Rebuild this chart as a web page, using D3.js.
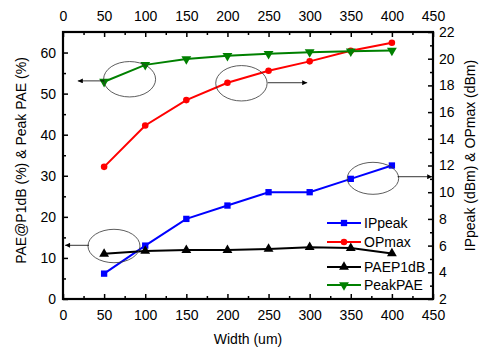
<!DOCTYPE html>
<html>
<head>
<meta charset="utf-8">
<script src="https://cdn.jsdelivr.net/npm/d3@7"></script>
<style>
  body { margin: 0; background: #fff; }
  svg text { font-family: Arial, "Liberation Sans", sans-serif; fill: #000; }
</style>
</head>
<body>
<div class="canva"></div>
<script>
// data
var widths   = [50, 100, 150, 200, 250, 300, 350, 400];
var ipPeak   = [3.9, 6.0, 8.0, 9.0, 10.0, 10.0, 11.0, 12.0];     // dBm, right axis
var opMax    = [11.9, 15.0, 16.9, 18.2, 19.1, 19.8, 20.6, 21.2]; // dBm, right axis
var paeP1dB  = [11.0, 11.7, 11.9, 11.9, 12.2, 12.6, 12.4, 11.1]; // %, left axis
var peakPAE  = [52.9, 57.0, 58.4, 59.2, 59.7, 60.1, 60.3, 60.5]; // %, left axis

var xTicks     = [0, 50, 100, 150, 200, 250, 300, 350, 400, 450];
var leftTicks  = [0, 10, 20, 30, 40, 50, 60];
var rightTicks = [2, 4, 6, 8, 10, 12, 14, 16, 18, 20, 22];

// ellipses + arrows (data units)
var circles = [
  {cx: 81, cy: 53.5, side: "left", rx: 26, ry: 17.7, x1: 50, x2: 18, ay: 53.1},
  {cx: 217, cy: 18.16, side: "right", rx: 25.7, ry: 17.7, x1: 249, x2: 297, ay: 18.2},
  {cx: 377, cy: 11.04, side: "right", rx: 25.7, ry: 16, x1: 407, x2: 449, ay: 11.16},
  {cx: 62, cy: 12.9, side: "left", rx: 26, ry: 16.7, x1: 31.6, x2: 2.5, ay: 13.07}
];

var margin = {top: 32, right: 50, bottom: 48, left: 63},
    W = 483, H = 347,
    width = W - margin.left - margin.right,
    height = H - margin.top - margin.bottom;

var svg = d3.select(".canva").append("svg")
    .attr("width", W).attr("height", H)
  .append("g")
    .attr("transform", "translate(" + margin.left + "," + margin.top + ")");

var x = d3.scaleLinear().domain([0, 450]).range([0, width]);
var yL = d3.scaleLinear().domain([0, 65]).range([height, 0]);
var yR = d3.scaleLinear().domain([2, 22]).range([height, 0]);

function minorOf(ticks) {
  var m = [];
  for (var i = 0; i < ticks.length - 1; i++) m.push((ticks[i] + ticks[i+1]) / 2);
  return m;
}

// axes, ticks pointing inward
function drawAxis(axisFn, scale, ticks, transform, pad) {
  var g = svg.append("g").attr("transform", transform);
  g.call(axisFn(scale).tickValues(minorOf(ticks)).tickSize(-3).tickFormat(""));
  g.selectAll("path").remove();
  var g2 = svg.append("g").attr("transform", transform);
  g2.call(axisFn(scale).tickValues(ticks).tickSize(-5).tickPadding(pad));
  g2.selectAll("path").remove();
  g2.selectAll("text").style("font-size", "14px");
  svg.selectAll("line").attr("stroke", "#000").attr("stroke-width", 1.5);
  return g2;
}

drawAxis(d3.axisBottom, x, xTicks, "translate(0," + height + ")", 11);
drawAxis(d3.axisTop, x, xTicks, "translate(0,0)", 11);
var gl = drawAxis(d3.axisLeft, yL, leftTicks, "translate(0,0)", 7);
var gr = drawAxis(d3.axisRight, yR, rightTicks, "translate(" + width + ",0)", 6);

// frame
svg.append("rect")
  .attr("x", 0).attr("y", 0).attr("width", width).attr("height", height)
  .attr("fill", "none").attr("stroke", "#000").attr("stroke-width", 2.2);

// axis titles
svg.append("text")
  .attr("x", width / 2).attr("y", height + 45)
  .attr("text-anchor", "middle").style("font-size", "14px")
  .text("Width (um)");
svg.append("text")
  .attr("transform", "translate(" + (-37) + "," + (height / 2 - 5) + ") rotate(-90)")
  .attr("text-anchor", "middle").style("font-size", "14px")
  .text("PAE@P1dB (%) & Peak PAE (%)");
svg.append("text")
  .attr("transform", "translate(" + (width + 42) + "," + (height / 2 - 10) + ") rotate(-90)")
  .attr("text-anchor", "middle").style("font-size", "14px")
  .text("IPpeak (dBm) & OPmax (dBm)");

var series = [
  {name: "IPpeak", values: ipPeak, y: yR, color: "#0000ff", marker: "square"},
  {name: "OPmax", values: opMax, y: yR, color: "#ff0000", marker: "circle"},
  {name: "PAEP1dB", values: paeP1dB, y: yL, color: "#000000", marker: "triangle"},
  {name: "PeakPAE", values: peakPAE, y: yL, color: "#008000", marker: "triangleDown"}
];

var symbols = {
  square: d3.symbol().type(d3.symbolSquare).size(40),
  circle: d3.symbol().type(d3.symbolCircle).size(34),
  triangle: d3.symbol().type(d3.symbolTriangle).size(42),
  triangleDown: d3.symbol().type(d3.symbolTriangle).size(42)
};

series.forEach(function(s) {
  var pts = widths.map(function(w, i) { return [x(w), s.y(s.values[i])]; });
  svg.append("path")
    .attr("d", d3.line()(pts))
    .attr("fill", "none").attr("stroke", s.color).attr("stroke-width", 2);
  svg.selectAll(null).data(pts).enter().append("path")
    .attr("d", symbols[s.marker]())
    .attr("transform", function(d) {
      return "translate(" + d[0] + "," + d[1] + ")" + (s.marker == "triangleDown" ? " rotate(180)" : "");
    })
    .attr("fill", s.color);
});

// annotations
svg.append("defs").append("marker")
  .attr("id", "arr").attr("viewBox", "0 0 10 10")
  .attr("refX", 10).attr("refY", 5)
  .attr("markerWidth", 7).attr("markerHeight", 5)
  .attr("markerUnits", "userSpaceOnUse")
  .attr("orient", "auto")
  .append("path").attr("d", "M0,0L10,5L0,10z").attr("fill", "#000");

circles.forEach(function(c) {
  var ys = c.side == "left" ? yL : yR;
  svg.append("ellipse")
    .attr("cx", x(c.cx)).attr("cy", ys(c.cy))
    .attr("rx", c.rx).attr("ry", c.ry)
    .attr("fill", "none").attr("stroke", "#333").attr("stroke-width", 0.8);
  svg.append("line")
    .attr("x1", x(c.x1)).attr("x2", x(c.x2))
    .attr("y1", ys(c.ay)).attr("y2", ys(c.ay))
    .attr("stroke", "#000").attr("stroke-width", 0.8)
    .attr("marker-end", "url(#arr)");
});

// legend
var legendY = [223, 242, 267, 285];
var lg = svg.append("g").attr("transform", "translate(" + (-margin.left) + "," + (-margin.top) + ")");
series.forEach(function(s, i) {
  var g = lg.append("g").attr("transform", "translate(0," + legendY[i] + ")");
  g.append("line").attr("x1", 327).attr("x2", 361).attr("y1", 0).attr("y2", 0)
    .attr("stroke", s.color).attr("stroke-width", 2);
  g.append("path").attr("d", symbols[s.marker]())
    .attr("transform", "translate(344,0)" + (s.marker == "triangleDown" ? " rotate(180)" : ""))
    .attr("fill", s.color);
  g.append("text").attr("x", 364).attr("y", 5).style("font-size", "14px").text(s.name);
});
</script>
</body>
</html>
